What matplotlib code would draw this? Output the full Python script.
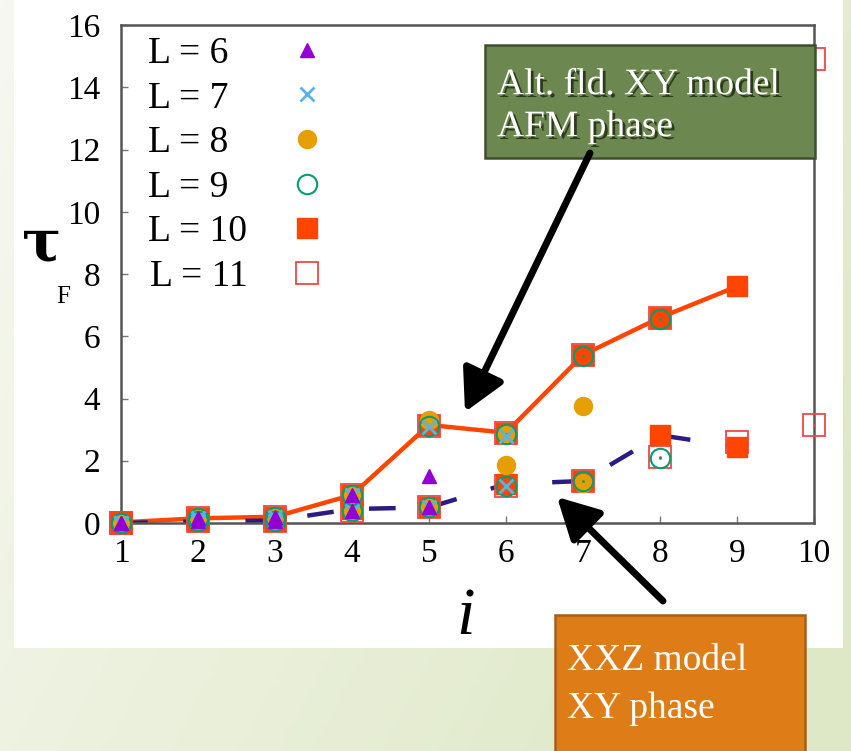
import numpy as np
import matplotlib
matplotlib.use("Agg")
import matplotlib.pyplot as plt
from matplotlib.patches import Rectangle, FancyArrowPatch
import matplotlib.patheffects as pe

plt.rcParams['font.family'] = ['Liberation Serif', 'DejaVu Serif']

# site index i and the chain lengths L
i_idx = np.arange(1, 11)
sizes = [6, 7, 8, 9, 10, 11]

# tau_F for the alternating-field XY model (AFM phase)
tau_alt = {
    6:  [0.00, 0.15, 0.20, 0.90, 1.50],
    7:  [0.00, 0.15, 0.20, 0.90, 3.10, 2.78],
    8:  [0.00, 0.15, 0.20, 0.90, 3.30, 2.85, 3.75],
    9:  [0.00, 0.15, 0.20, 0.90, 3.12, 2.85, 5.35, 6.55],
    10: [0.02, 0.15, 0.20, 0.90, 3.15, 2.90, 5.40, 6.60, 7.60],
    11: [0.00, 0.15, 0.20, 0.90, 3.12, 2.90, 5.40, 6.60, np.nan, 14.90],
}

# tau_F for the XXZ model (XY phase)
tau_xxz = {
    6:  [0.00, 0.05, 0.08, 0.40, 0.50],
    7:  [0.00, 0.05, 0.08, 0.40, 0.50, 1.20],
    8:  [0.00, 0.05, 0.08, 0.40, 0.50, 1.85, 1.30],
    9:  [0.00, 0.05, 0.08, 0.40, 0.50, 1.20, 1.35, 2.08],
    10: [0.00, 0.05, 0.08, 0.45, 0.50, 1.25, 1.35, 2.82, 2.45],
    11: [0.00, 0.05, 0.08, 0.40, 0.50, 1.20, 1.35, 2.12, 2.60, 3.15],
}

# labels padded with a figure space so the one-digit entries line up on the left
labels = [f"L = {L}" + ("\u2007" if L < 10 else "") for L in sizes]

styles = {
    6:  dict(marker='^', ms=10, mfc='#9400D3', mec='#9400D3', mew=1.0, z=8),
    7:  dict(marker='x', ms=10, mfc='none', mec='#56B4E9', mew=2.0, z=7),
    8:  dict(marker='o', ms=13, mfc='#E69F00', mec='#E69F00', mew=1.0, z=5),
    9:  dict(marker='o', ms=14, mfc='none', mec='#009E73', mew=1.5, z=6),
    10: dict(marker='s', ms=14, mfc='#FF4500', mec='#FF4500', mew=1.0, z=4),
    11: dict(marker='s', ms=16, mfc='none', mec='#F04848', mew=1.3, z=3),
}

W, H = 851, 751
fig = plt.figure(figsize=(W / 100, H / 100), dpi=100)

# soft green backdrop with a white panel
bg = fig.add_axes([0, 0, 1, 1], zorder=-10)
bg.axis('off')
yy, xx = np.mgrid[0:1:200j, 0:1:200j]
t = np.clip(0.75 * xx + 0.35 * yy, 0, 1)[..., None]
light = np.array([247, 248, 240]) / 255
green = np.array([222, 232, 198]) / 255
bg.imshow(light * (1 - t) + green * t, extent=[0, W, H, 0], aspect='auto')
bg.add_patch(Rectangle((14, 0), 829, 648, facecolor='white', edgecolor='none'))
bg.set_xlim(0, W)
bg.set_ylim(H, 0)

ax = fig.add_axes([121 / W, 1 - 523 / H, (814 - 121) / W, (523 - 25) / H])
ax.set_facecolor('none')

# guide lines through the L = 10 results
n10 = len(tau_alt[10])
ax.plot(i_idx[:n10], tau_alt[10], color='#FF4500', lw=3.2, zorder=2)
ax.plot(i_idx[:n10], tau_xxz[10], color='#2B1B84', lw=3.2, zorder=2,
        dashes=(6, 8), dash_capstyle='butt')

handles = {}
for L, lab in zip(sizes, labels):
    s = styles[L]
    for data, name in ((tau_alt[L], lab), (tau_xxz[L], None)):
        x = i_idx[:len(data)]
        h, = ax.plot(x, data, ls='none', marker=s['marker'], ms=s['ms'],
                     mfc=s['mfc'], mec=s['mec'], mew=s['mew'], zorder=s['z'],
                     clip_on=False, label=name)
        if name:
            handles[L] = h
        if s['mfc'] == 'none' and s['marker'] != 'x':
            ax.plot(x, data, ls='none', marker='.', ms=2, color=s['mec'],
                    zorder=s['z'], clip_on=False)

ax.set_xlim(1, 10)
ax.set_ylim(0, 16)
ax.set_xticks(i_idx)
ax.set_yticks(np.arange(0, 17, 2))
ax.tick_params(direction='in', length=5, width=1, color='#777777',
               labelsize=24, top=False, right=False)
ax.tick_params(axis='y', pad=15)
ax.tick_params(axis='x', pad=11)
for sp in ax.spines.values():
    sp.set_color('#555555')
    sp.set_linewidth(1.8)

leg = ax.legend([handles[L] for L in sizes], labels, loc='upper left',
                bbox_to_anchor=(0.039, 0.977), frameon=False, fontsize=27,
                markerfirst=False, handlelength=1.0, handletextpad=1.1,
                labelspacing=0.27, borderaxespad=0, borderpad=0)

# annotation layer in pixel coordinates
ov = fig.add_axes([0, 0, 1, 1], zorder=10)
ov.axis('off')
ov.set_facecolor('none')
ov.set_xlim(0, W)
ov.set_ylim(H, 0)

ov.text(42, 245, "τ", fontsize=42, fontweight='bold', family='DejaVu Serif',
        ha='center', va='center')
ov.text(63, 297, "F", fontsize=18, ha='center', va='center')
ov.text(466, 617, "i", fontsize=48, style='italic', ha='center', va='center')

shadow = [pe.SimplePatchShadow(offset=(2, -2), shadow_rgbFace='#263318', alpha=0.9),
          pe.Normal()]
ov.add_patch(Rectangle((485, 45), 330, 113, facecolor='#6C874F',
                       edgecolor='#3E4E2E', lw=1.8))
ov.text(497, 85, "Alt. fld. XY model", fontsize=27, color='white',
        va='center', ha='left', path_effects=shadow)
ov.text(497, 127, "AFM phase", fontsize=27, color='white',
        va='center', ha='left', path_effects=shadow)

ov.add_patch(Rectangle((555, 615), 250, 160, facecolor='#DE7D18',
                       edgecolor='#A85E16', lw=1.8, clip_on=False))
ov.text(567, 661, "XXZ model", fontsize=27, color='white', va='center', ha='left')
ov.text(567, 709, "XY phase", fontsize=27, color='white', va='center', ha='left')

for tail, tip in (((590, 153), (465, 412)), ((663, 601), (557, 497))):
    ov.add_patch(FancyArrowPatch(tail, tip, arrowstyle='-|>,head_length=1.4,head_width=0.75',
                                 mutation_scale=18, lw=5, color='black',
                                 shrinkA=0, shrinkB=0))

fig.savefig("out.png", dpi=100)
